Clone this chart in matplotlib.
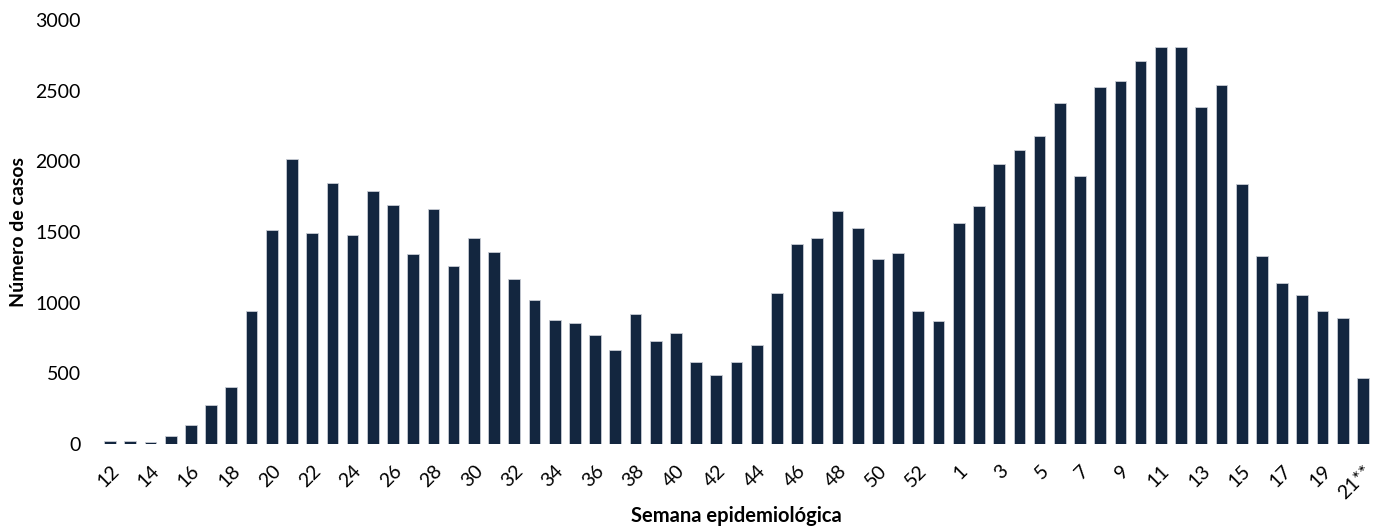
import numpy as np
import matplotlib.pyplot as plt

plt.rcParams['font.family'] = ['Lato', 'DejaVu Sans']

# epidemiological weeks: 12-53 (2020), 1-21 (2021)
weeks = [str(w) for w in range(12, 54)] + [str(w) for w in range(1, 21)] + ['21**']
cases = [19, 24, 14, 59, 132, 274, 401, 943, 1517, 2019,
         1491, 1847, 1479, 1788, 1689, 1347, 1663, 1257, 1458, 1359,
         1168, 1019, 875, 856, 774, 668, 922, 727, 783, 578,
         491, 583, 698, 1066, 1415, 1456, 1651, 1529, 1312, 1354,
         939, 873,
         1564, 1682, 1979, 2080, 2182, 2411, 1894, 2524, 2566, 2710,
         2809, 2809, 2382, 2540, 1838, 1328, 1137, 1052, 943, 892, 469]

bar_color = '#13263f'

fig = plt.figure(figsize=(13.81, 5.28), dpi=100)
ax = fig.add_axes([100 / 1381, 84 / 528, 1273 / 1381, 424 / 528])

x = np.arange(len(weeks))
ax.bar(x, cases, width=0.58, color=bar_color, edgecolor='#c8ccd4', linewidth=0.6)

ax.set_xlim(-0.5, len(weeks) - 0.5)
ax.set_ylim(0, 3000)
ax.set_yticks(np.arange(0, 3001, 500))
ax.set_xticks(x[::2])
ax.set_xticklabels(weeks[::2], rotation=45, ha='right', va='top',
                   rotation_mode='anchor')
ax.tick_params(axis='both', length=0, labelsize=14, colors='#000000')
ax.tick_params(axis='x', pad=13)
ax.tick_params(axis='y', pad=14)

for s in ax.spines.values():
    s.set_visible(False)

ax.set_ylabel('Número de casos', fontsize=14, fontweight='bold', labelpad=6)
ax.set_xlabel('Semana epidemiológica', fontsize=14.5, fontweight='bold', labelpad=3)

fig.savefig('out.png', dpi=100)
